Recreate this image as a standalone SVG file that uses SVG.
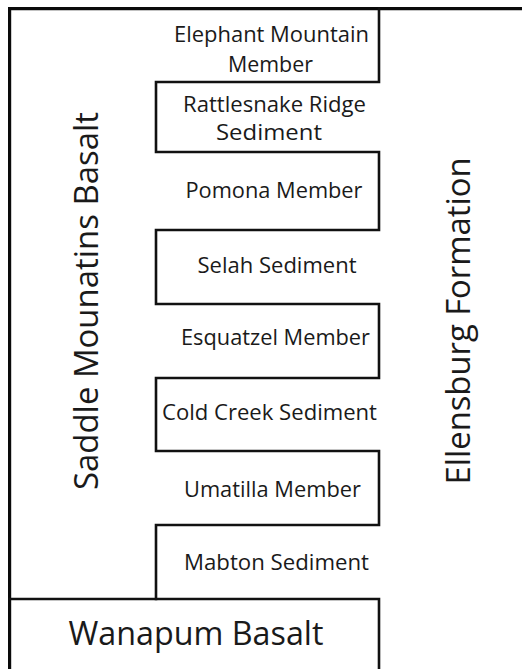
<svg xmlns="http://www.w3.org/2000/svg" width="522" height="669" viewBox="0 0 522 669">
<style>
.ln{fill:none;stroke:#111;stroke-width:2.6;stroke-linejoin:miter;stroke-linecap:square}
.frame{fill:none;stroke:#0a0a0a;stroke-width:3.2}
.t{font-family:"Open Sans","Noto Sans","Liberation Sans",sans-serif;fill:#1a1a1a;text-anchor:middle}
.s{font-size:21px}
.b{font-size:32px}
</style>
<rect width="522" height="669" fill="#ffffff"/>
<g id="connectors">
<path class="frame" d="M9.6,669 V8.6 H522"/>
<path class="ln" d="M379,8.6 V82 H156 V152 H379 V230 H156 V304 H379 V378 H156 V451 H379 V525 H156 V599"/>
<path class="ln" d="M9.6,599 H379 V669"/>
</g>
<g id="elephant-mountain"><text class="t s" x="271.5" y="41.5" textLength="195" lengthAdjust="spacingAndGlyphs">Elephant Mountain</text><text class="t s" x="270.5" y="71.5" textLength="85" lengthAdjust="spacingAndGlyphs">Member</text></g>
<g id="rattlesnake-ridge"><text class="t s" x="274.5" y="111.5" textLength="183" lengthAdjust="spacingAndGlyphs">Rattlesnake Ridge</text><text class="t s" x="269" y="140" textLength="106" lengthAdjust="spacingAndGlyphs">Sediment</text></g>
<g id="pomona"><text class="t s" x="274" y="198" textLength="177" lengthAdjust="spacingAndGlyphs">Pomona Member</text></g>
<g id="selah"><text class="t s" x="277" y="273" textLength="159" lengthAdjust="spacingAndGlyphs">Selah Sediment</text></g>
<g id="esquatzel"><text class="t s" x="275.5" y="344.5" textLength="189" lengthAdjust="spacingAndGlyphs">Esquatzel Member</text></g>
<g id="cold-creek"><text class="t s" x="269.5" y="420" textLength="215" lengthAdjust="spacingAndGlyphs">Cold Creek Sediment</text></g>
<g id="umatilla"><text class="t s" x="272.5" y="497" textLength="177" lengthAdjust="spacingAndGlyphs">Umatilla Member</text></g>
<g id="mabton"><text class="t s" x="276.5" y="570" textLength="185" lengthAdjust="spacingAndGlyphs">Mabton Sediment</text></g>
<g id="wanapum"><text class="t b" x="196" y="645" textLength="255" lengthAdjust="spacingAndGlyphs">Wanapum Basalt</text></g>
<g id="saddle-mountains"><text class="t b" transform="translate(98,301) rotate(-90)" textLength="378" lengthAdjust="spacingAndGlyphs">Saddle Mounatins Basalt</text></g>
<g id="ellensburg"><text class="t b" transform="translate(470,321) rotate(-90)" textLength="327" lengthAdjust="spacingAndGlyphs">Ellensburg Formation</text></g>
</svg>
